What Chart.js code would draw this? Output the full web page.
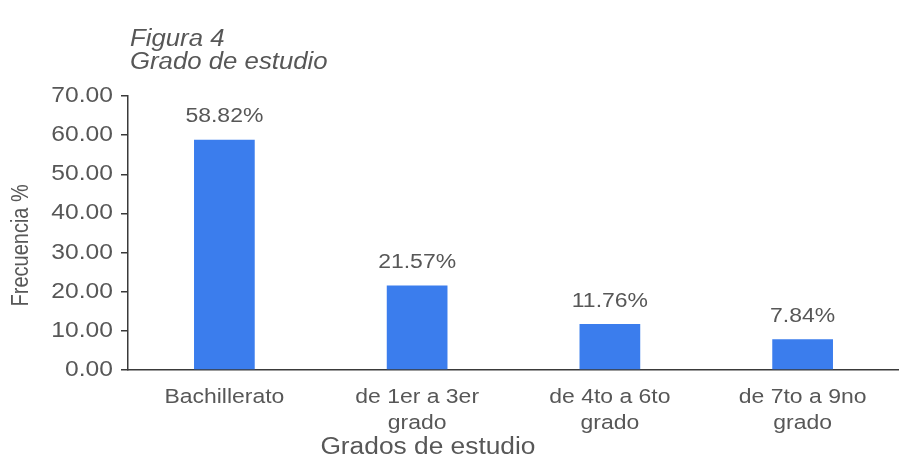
<!DOCTYPE html>
<html>
<head>
<meta charset="utf-8">
<script src="https://cdn.jsdelivr.net/npm/chart.js@4/dist/chart.umd.min.js"></script>
<style>
  html, body { margin: 0; padding: 0; background: #ffffff; }
  #wrap { width: 899px; height: 464px; position: relative; }
</style>
</head>
<body>
<div id="wrap"><canvas id="c" width="899" height="464"></canvas></div>
<script>
const titleLines = ['Figura 4', 'Grado de estudio'];
const categories = [['Bachillerato'], ['de 1er a 3er', 'grado'], ['de 4to a 6to', 'grado'], ['de 7to a 9no', 'grado']];
const values = [58.82, 21.57, 11.76, 7.84];
const valueLabels = ['58.82%', '21.57%', '11.76%', '7.84%'];
const yTicks = [0, 10, 20, 30, 40, 50, 60, 70];
const xTitle = 'Grados de estudio';
const yTitle = 'Frecuencia %';

const FONT = "'Liberation Sans', Arial, sans-serif";
const TEXT = '#575757';
const AXIS = '#3a3a3a';
const STRETCH = 1.12;

const origFill = CanvasRenderingContext2D.prototype.fillText;
function stretchedFill(t, x, y, mw) {
  const m = this.getTransform();
  if (Math.abs(m.b) > 1e-6 || Math.abs(m.c) > 1e-6) {
    return origFill.call(this, t, x, y);
  }
  this.save();
  this.translate(x, y);
  this.scale(STRETCH, 1);
  origFill.call(this, t, 0, 0);
  this.restore();
}

const textStretch = {
  id: 'textStretch',
  beforeDraw(chart) { chart.ctx.fillText = stretchedFill; }
};

// Figure title and axis titles (positioned relative to the chart area)
const titles = {
  id: 'titles',
  afterDraw(chart) {
    const ctx = chart.ctx;
    const a = chart.chartArea;
    ctx.save();
    ctx.fillStyle = TEXT;
    ctx.textBaseline = 'middle';
    ctx.font = 'italic 23px ' + FONT;
    ctx.textAlign = 'left';
    ctx.fillText(titleLines[0], a.left + 2, 40);
    ctx.fillText(titleLines[1], a.left + 2, 63);

    ctx.font = '23.5px ' + FONT;
    ctx.textAlign = 'center';
    ctx.fillText(xTitle, a.left + (a.right - a.left) * 0.389, chart.height - 16);

    ctx.translate(22, a.top + (a.bottom - a.top) * 0.545);
    ctx.rotate(-Math.PI / 2);
    ctx.scale(1, 1.15);
    ctx.font = '20px ' + FONT;
    ctx.fillText(yTitle, 0, 0);
    ctx.restore();
  }
};

const barLabels = {
  id: 'barLabels',
  afterDatasetsDraw(chart) {
    const ctx = chart.ctx;
    const meta = chart.getDatasetMeta(0);
    ctx.save();
    ctx.fillStyle = TEXT;
    ctx.font = '20.5px ' + FONT;
    ctx.textAlign = 'center';
    ctx.textBaseline = 'middle';
    meta.data.forEach((bar, i) => {
      ctx.fillText(valueLabels[i], bar.x, bar.y - 23);
    });
    ctx.restore();
  }
};

new Chart(document.getElementById('c'), {
  type: 'bar',
  data: {
    labels: categories,
    datasets: [{
      data: values,
      backgroundColor: '#3b7ded',
      borderWidth: 0,
      categoryPercentage: 1.0,
      barPercentage: 0.315
    }]
  },
  options: {
    responsive: false,
    animation: false,
    devicePixelRatio: 1,
    layout: { padding: { top: 96, left: 0, right: -8, bottom: 0 } },
    plugins: {
      legend: { display: false },
      tooltip: { enabled: false },
      title: { display: false }
    },
    scales: {
      x: {
        afterFit(scale) { scale.height = 94; },
        grid: { display: false, drawTicks: false },
        border: { display: true, color: AXIS, width: 1.5 },
        ticks: {
          color: TEXT,
          font: { family: FONT, size: 20.5, lineHeight: 1.27 },
          padding: 14,
          maxRotation: 0,
          autoSkip: false
        },
        title: { display: false }
      },
      y: {
        min: 0,
        max: 70,
        afterFit(scale) { scale.width = 128; },
        afterBuildTicks(scale) { scale.ticks = yTicks.map(v => ({ value: v })); },
        grid: { display: true, drawOnChartArea: false, drawTicks: true, tickLength: 7, color: AXIS, lineWidth: 1.5 },
        border: { display: true, color: AXIS, width: 1.5 },
        ticks: {
          color: TEXT,
          font: { family: FONT, size: 22 },
          padding: 8,
          callback: (v) => Number(v).toFixed(2)
        },
        title: { display: false }
      }
    }
  },
  plugins: [textStretch, titles, barLabels]
});
</script>
</body>
</html>
